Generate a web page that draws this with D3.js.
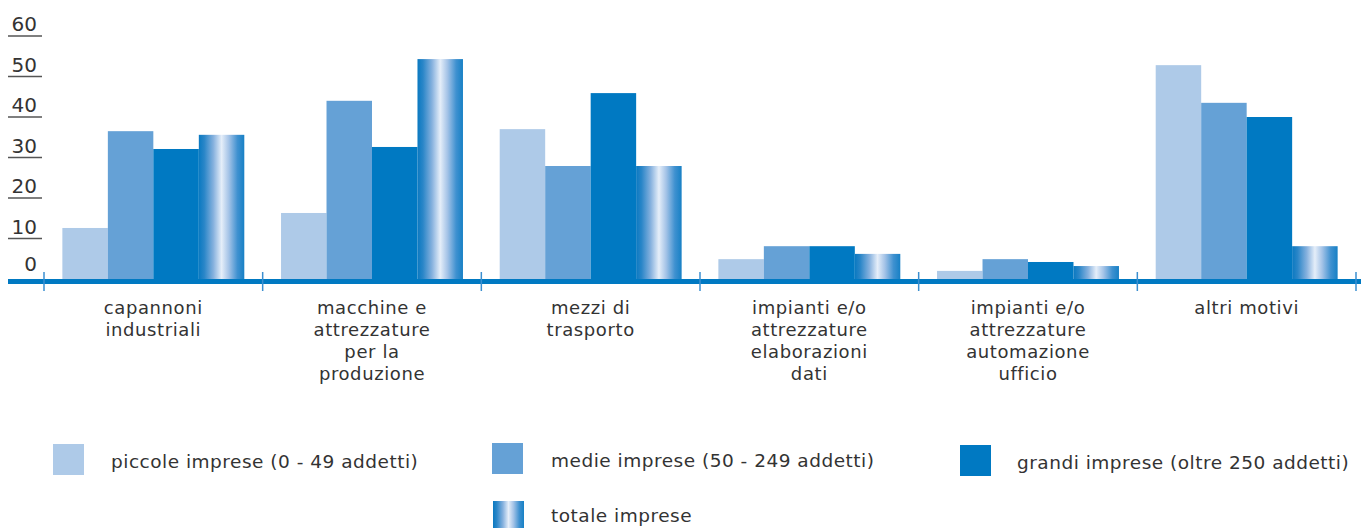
<!DOCTYPE html>
<html>
<head>
<meta charset="utf-8">
<script src="https://cdn.jsdelivr.net/npm/d3@7"></script>
<style>
  html, body { margin: 0; padding: 0; background: #fff; }
  svg { display: block; }
  text { font-family: "DejaVu Sans", "Open Sans", sans-serif; fill: #333; }
</style>
</head>
<body>
<svg id="chart" width="1361" height="528"></svg>
<script>
// Investment purposes by company size (%)
const categories = [
  ["capannoni", "industriali"],
  ["macchine e", "attrezzature", "per la", "produzione"],
  ["mezzi di", "trasporto"],
  ["impianti e/o", "attrezzature", "elaborazioni", "dati"],
  ["impianti e/o", "attrezzature", "automazione", "ufficio"],
  ["altri motivi"]
];
const seriesNames = [
  "piccole imprese (0 - 49 addetti)",
  "medie imprese (50 - 249 addetti)",
  "grandi imprese (oltre 250 addetti)",
  "totale imprese"
];
const piccole = [12.6, 16.3, 37.0, 4.9, 2.0, 52.8];
const medie   = [36.5, 44.0, 27.9, 8.1, 4.9, 43.5];
const grandi  = [32.1, 32.6, 45.9, 8.1, 4.2, 40.0];
const totale  = [35.6, 54.3, 27.9, 6.2, 3.2, 8.1];
const yTicks = [0, 10, 20, 30, 40, 50, 60];

const seriesValues = [piccole, medie, grandi, totale];
const fills = ["#aecae8", "#65a1d6", "#0079c2", "url(#tubeGrad)"];

const svg = d3.select("#chart");

// cylindrical shading for the "totale" bars
const defs = svg.append("defs");
const grad = defs.append("linearGradient").attr("id", "tubeGrad")
  .attr("x1", "0%").attr("x2", "100%").attr("y1", "0%").attr("y2", "0%");
[[0, "#0a79c1"], [0.12, "#2a86c8"], [0.32, "#86b1de"], [0.5, "#e5eef9"],
 [0.66, "#a4c3e7"], [0.85, "#3f91d0"], [1, "#1780c5"]]
  .forEach(([o, c]) => grad.append("stop").attr("offset", o).attr("stop-color", c));

const baseY = 279;

const x0 = d3.scaleBand()
  .domain(d3.range(categories.length))
  .range([44, 1356])
  .paddingInner(0.168)
  .paddingOuter(0.084);

const x1 = d3.scaleBand()
  .domain(d3.range(seriesValues.length))
  .range([0, x0.bandwidth()]);

const y = d3.scaleLinear().domain([0, 60]).range([baseY, 36]);

// y ticks: value label with an underline rule
const yAxis = svg.append("g");
yTicks.forEach(t => {
  if (t > 0) {
    yAxis.append("line")
      .attr("x1", 8).attr("x2", 42)
      .attr("y1", y(t)).attr("y2", y(t))
      .attr("stroke", "#555").attr("stroke-width", 1.5);
  }
  yAxis.append("text")
    .attr("x", 37)
    .attr("y", t > 0 ? y(t) - 5 : baseY - 8)
    .attr("text-anchor", "end")
    .attr("font-size", 20)
    .text(t);
});

// bars
const groups = svg.append("g").selectAll("g")
  .data(d3.range(categories.length))
  .join("g")
  .attr("transform", i => `translate(${x0(i)},0)`);

groups.selectAll("rect")
  .data(i => seriesValues.map((s, k) => ({ k, v: s[i] })))
  .join("rect")
  .attr("x", d => x1(d.k))
  .attr("width", x1.bandwidth())
  .attr("y", d => y(d.v))
  .attr("height", d => baseY - y(d.v))
  .attr("fill", d => fills[d.k]);

// x axis: thick baseline with separators between categories
svg.append("rect")
  .attr("x", 8).attr("y", baseY)
  .attr("width", 1361 - 8).attr("height", 5)
  .attr("fill", "#0079c2");

const gap = x0.step() - x0.bandwidth();
const seps = d3.range(categories.length + 1).map(i =>
  i < categories.length ? x0(i) - gap / 2 : x0(i - 1) + x0.bandwidth() + gap / 2);
svg.append("g").selectAll("line")
  .data(seps)
  .join("line")
  .attr("x1", d => d).attr("x2", d => d)
  .attr("y1", 272).attr("y2", 291)
  .attr("stroke", "#3b8fd0").attr("stroke-width", 1.5);

// category labels, one text per line
const labelGroups = svg.append("g").selectAll("g")
  .data(categories)
  .join("g");
labelGroups.selectAll("text")
  .data((c, i) => c.map((line, j) => ({ line, j, cx: x0(i) + x0.bandwidth() / 2 })))
  .join("text")
  .attr("x", d => d.cx)
  .attr("y", d => 314 + d.j * 22)
  .attr("text-anchor", "middle")
  .attr("font-size", 18)
  .attr("letter-spacing", 0.6)
  .text(d => d.line);

// legend
const legendPos = [
  { sx: 53, sy: 444, tx: 111, ty: 468 },
  { sx: 492, sy: 443, tx: 551, ty: 467 },
  { sx: 960, sy: 445, tx: 1017, ty: 469 },
  { sx: 493, sy: 501, tx: 551, ty: 522 }
];
const legend = svg.append("g").selectAll("g")
  .data(seriesNames)
  .join("g");
legend.append("rect")
  .attr("x", (d, i) => legendPos[i].sx)
  .attr("y", (d, i) => legendPos[i].sy)
  .attr("width", 31).attr("height", 31)
  .attr("fill", (d, i) => fills[i]);
legend.append("text")
  .attr("x", (d, i) => legendPos[i].tx)
  .attr("y", (d, i) => legendPos[i].ty)
  .attr("font-size", 18.5)
  .attr("letter-spacing", 0.5)
  .text(d => d);
</script>
</body>
</html>
